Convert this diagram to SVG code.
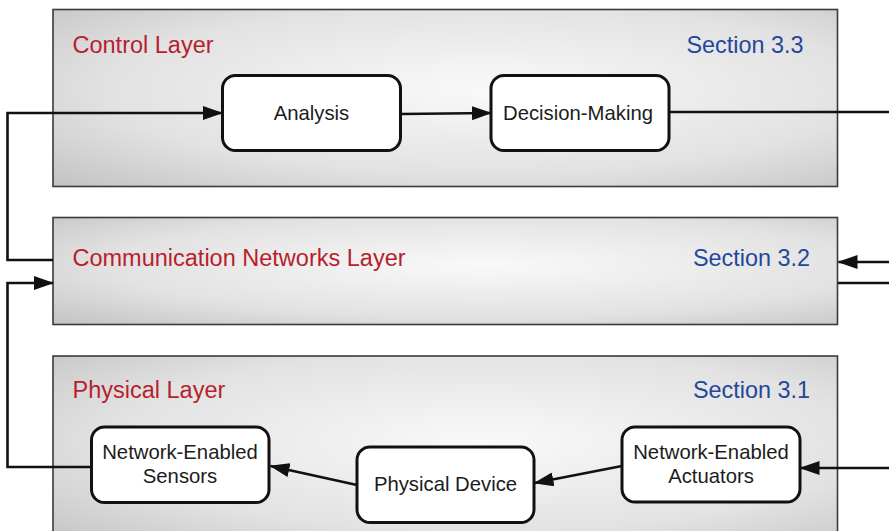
<svg xmlns="http://www.w3.org/2000/svg" width="889" height="531" viewBox="0 0 889 531">
<defs>
<radialGradient id="lg" cx="0.55" cy="0.45" r="0.8">
<stop offset="0" stop-color="#f9f9f9"/>
<stop offset="0.6" stop-color="#e2e2e2"/>
<stop offset="1" stop-color="#c0c0c0"/>
</radialGradient>
<marker id="ah" markerWidth="20" markerHeight="14" refX="19" refY="7" orient="auto" markerUnits="userSpaceOnUse">
<path d="M0,0 L20,7 L0,14 Z" fill="#111"/>
</marker>
</defs>
<style>
.layer{fill:url(#lg);stroke:#3a3a3a;stroke-width:1.6}
.node{fill:#fff;stroke:#111;stroke-width:3}
.lt{font-family:"Liberation Sans",Arial,sans-serif;font-size:23.5px;fill:#b71f2e}
.st{font-family:"Liberation Sans",Arial,sans-serif;font-size:23.4px;fill:#23479a}
.nt{font-family:"Liberation Sans",Arial,sans-serif;font-size:20.3px;fill:#1c1c1c;text-anchor:middle}
.c{fill:none;stroke:#111;stroke-width:2.6}
</style>
<g id="control-layer">
<rect class="layer" x="53" y="9.5" width="784.5" height="177"/>
<text class="lt" x="72.5" y="52.5">Control Layer</text>
<text class="st" x="686.5" y="52.5">Section 3.3</text>
</g>
<g id="communication-layer">
<rect class="layer" x="53" y="217.5" width="784.5" height="107"/>
<text class="lt" x="72.5" y="265.5">Communication Networks Layer</text>
<text class="st" x="693" y="265.5">Section 3.2</text>
</g>
<g id="physical-layer">
<rect class="layer" x="53" y="356" width="784.5" height="190"/>
<text class="lt" x="72.5" y="397.5">Physical Layer</text>
<text class="st" x="693" y="397.5">Section 3.1</text>
</g>
<g id="connectors">
<polyline class="c" points="53,260 7.5,260 7.5,113 222,113" marker-end="url(#ah)"/>
<line class="c" x1="401" y1="114" x2="491" y2="113" marker-end="url(#ah)"/>
<line class="c" x1="669" y1="112" x2="889" y2="112"/>
<line class="c" x1="889" y1="262" x2="838.5" y2="262" marker-end="url(#ah)"/>
<line class="c" x1="838" y1="283" x2="889" y2="283"/>
<polyline class="c" points="91,467 7.5,467 7.5,283 53,283" marker-end="url(#ah)"/>
<line class="c" x1="889" y1="468" x2="800.5" y2="468" marker-end="url(#ah)"/>
<line class="c" x1="622" y1="466" x2="534.5" y2="483" marker-end="url(#ah)"/>
<line class="c" x1="357" y1="485" x2="270.5" y2="466" marker-end="url(#ah)"/>
</g>
<g id="analysis">
<rect class="node" x="222.5" y="75.5" width="178" height="75" rx="13"/>
<text class="nt" x="311.5" y="120">Analysis</text>
</g>
<g id="decision-making">
<rect class="node" x="491" y="75.5" width="178" height="75" rx="13"/>
<text class="nt" x="578" y="120">Decision-Making</text>
</g>
<g id="sensors">
<rect class="node" x="91.5" y="427" width="177.5" height="75.5" rx="13"/>
<text class="nt" x="180" y="458.5">Network-Enabled</text>
<text class="nt" x="180" y="482.5">Sensors</text>
</g>
<g id="physical-device">
<rect class="node" x="357" y="447" width="177" height="75.5" rx="13"/>
<text class="nt" x="445.5" y="491">Physical Device</text>
</g>
<g id="actuators">
<rect class="node" x="622" y="427" width="178" height="75" rx="13"/>
<text class="nt" x="711" y="459">Network-Enabled</text>
<text class="nt" x="711" y="483">Actuators</text>
</g>
</svg>
